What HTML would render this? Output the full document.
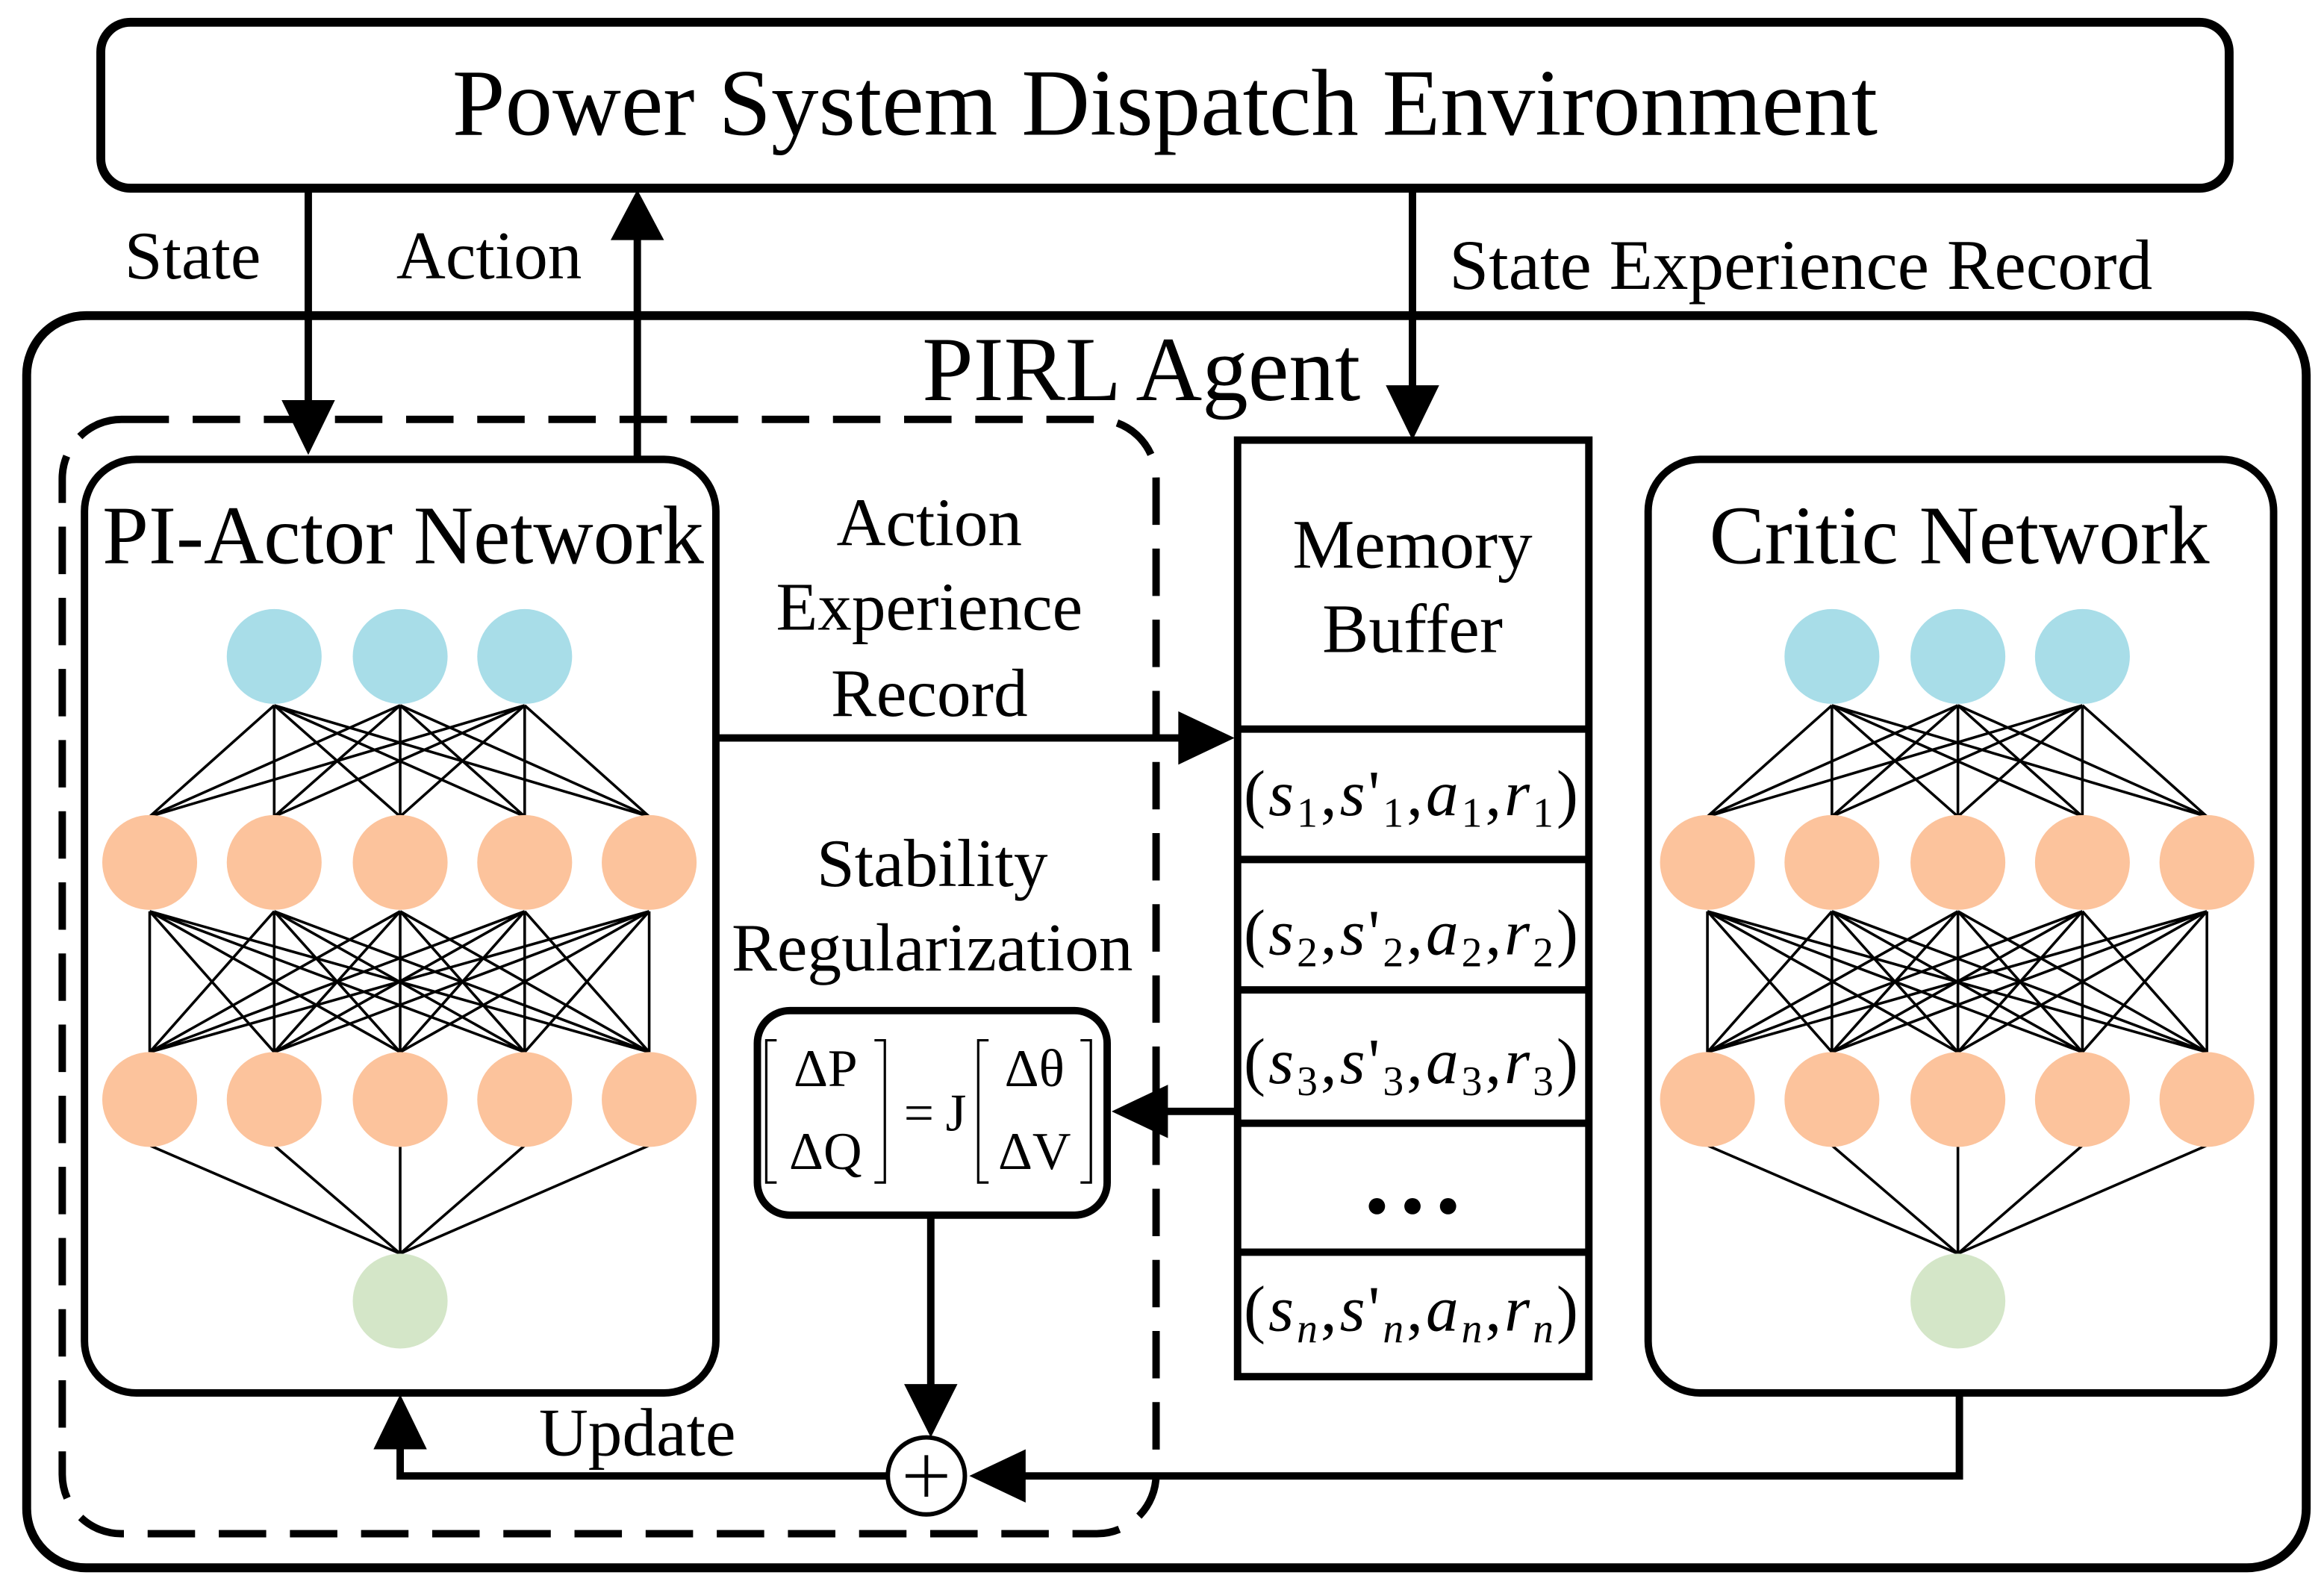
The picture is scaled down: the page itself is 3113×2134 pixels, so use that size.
<!DOCTYPE html>
<html><head><meta charset="utf-8"><style>
html,body{margin:0;padding:0;background:#fff;}
svg{display:block;}
text{font-family:"Liberation Serif",serif;fill:#000;}
</style></head><body>
<svg width="3113" height="2134" viewBox="0 0 1568 1075" preserveAspectRatio="none" xmlns="http://www.w3.org/2000/svg">
<defs>
<g id="net">
<path fill="none" stroke="#000" stroke-width="1.8" d="M185 476L101 551M185 476L185 551M185 476L270 551M185 476L354 551M185 476L438 551M270 476L101 551M270 476L185 551M270 476L270 551M270 476L354 551M270 476L438 551M354 476L101 551M354 476L185 551M354 476L270 551M354 476L354 551M354 476L438 551
M101 615L101 710M101 615L185 710M101 615L270 710M101 615L354 710M101 615L438 710
M185 615L101 710M185 615L185 710M185 615L270 710M185 615L354 710M185 615L438 710
M270 615L101 710M270 615L185 710M270 615L270 710M270 615L354 710M270 615L438 710
M354 615L101 710M354 615L185 710M354 615L270 710M354 615L354 710M354 615L438 710
M438 615L101 710M438 615L185 710M438 615L270 710M438 615L354 710M438 615L438 710
M101 773L270 846M185 773L270 846M270 773L270 846M354 773L270 846M438 773L270 846"/>
<g fill="#a8dde8"><circle cx="185" cy="443" r="32"/><circle cx="270" cy="443" r="32"/><circle cx="354" cy="443" r="32"/></g>
<g fill="#fcc39c"><circle cx="101" cy="582" r="32"/><circle cx="185" cy="582" r="32"/><circle cx="270" cy="582" r="32"/><circle cx="354" cy="582" r="32"/><circle cx="438" cy="582" r="32"/>
<circle cx="101" cy="742" r="32"/><circle cx="185" cy="742" r="32"/><circle cx="270" cy="742" r="32"/><circle cx="354" cy="742" r="32"/><circle cx="438" cy="742" r="32"/></g>
<circle cx="270" cy="878" r="32" fill="#d4e6c8"/>
</g>
</defs>

<rect x="68" y="15" width="1436" height="112" rx="20" fill="none" stroke="#000" stroke-width="6"/>
<text x="786" y="91" font-size="64" text-anchor="middle">Power System Dispatch Environment</text>

<rect x="18" y="213" width="1538" height="845" rx="40" fill="#fff" stroke="#000" stroke-width="6"/>
<text x="770" y="270" font-size="62" text-anchor="middle">PIRL Agent</text>
<rect x="42" y="283" width="738" height="752" rx="40" fill="none" stroke="#000" stroke-width="5" stroke-dasharray="32,16"/>

<g stroke="#000" stroke-width="5" fill="none">
<line x1="208" y1="127" x2="208" y2="275"/>
<line x1="430" y1="308" x2="430" y2="160"/>
<line x1="953" y1="127" x2="953" y2="262"/>
<line x1="483" y1="498" x2="800" y2="498"/>
<line x1="835" y1="750" x2="785" y2="750"/>
<line x1="628" y1="820" x2="628" y2="938"/>
<polyline points="1322,940 1322,996 690,996"/>
<polyline points="599,996 270,996 270,975"/>
</g>
<g fill="#000">
<polygon points="190,270 226,270 208,307"/>
<polygon points="412,162 448,162 430,128"/>
<polygon points="935,260 971,260 953,297"/>
<polygon points="795,480 795,516 833,498"/>
<polygon points="788,732 788,768 750,750"/>
<polygon points="610,934 646,934 628,970"/>
<polygon points="692,978 692,1014 654,996"/>
<polygon points="252,978 288,978 270,941"/>
</g>
<text x="130" y="188" font-size="46" text-anchor="middle">State</text>
<text x="330" y="188" font-size="46" text-anchor="middle">Action</text>
<text x="1215" y="195" font-size="48" text-anchor="middle">State Experience Record</text>

<rect x="57" y="310" width="426" height="630" rx="35" fill="#fff" stroke="#000" stroke-width="5"/>
<text x="272" y="380" font-size="56" text-anchor="middle">PI-Actor Network</text>
<use href="#net"/>

<rect x="1112" y="310" width="422" height="630" rx="35" fill="#fff" stroke="#000" stroke-width="5"/>
<text x="1322" y="380" font-size="56" text-anchor="middle">Critic Network</text>
<use href="#net" transform="translate(1051,0)"/>

<g font-size="46" text-anchor="middle">
<text x="627" y="368">Action</text>
<text x="627" y="425">Experience</text>
<text x="627" y="483">Record</text>
<text x="629" y="598">Stability</text>
<text x="629" y="655">Regularization</text>
<text x="430" y="982">Update</text>
</g>

<rect x="511" y="682" width="236" height="138" rx="22" fill="#fff" stroke="#000" stroke-width="5"/>
<g stroke="#000" stroke-width="1.6" fill="none">
<polyline points="524,702 517,702 517,798 524,798"/>
<polyline points="590,702 597,702 597,798 590,798"/>
<polyline points="667,702 660,702 660,798 667,798"/>
<polyline points="729,702 736,702 736,798 729,798"/>
</g>
<g font-size="36" text-anchor="middle">
<text x="557" y="733">ΔP</text>
<text x="557" y="789">ΔQ</text>
<text x="698" y="733">Δθ</text>
<text x="698" y="789">ΔV</text>
<text x="620" y="763">=</text>
<text x="645" y="763">J</text>
</g>

<circle cx="625" cy="996" r="26" fill="#fff" stroke="#000" stroke-width="3"/>
<path d="M625 982V1010M611 996H639" stroke="#000" stroke-width="2.5"/>

<rect x="835" y="297" width="237" height="632" fill="#fff" stroke="#000" stroke-width="5"/>
<g stroke="#000" stroke-width="5">
<line x1="835" y1="492" x2="1072" y2="492"/>
<line x1="835" y1="580" x2="1072" y2="580"/>
<line x1="835" y1="668" x2="1072" y2="668"/>
<line x1="835" y1="758" x2="1072" y2="758"/>
<line x1="835" y1="845" x2="1072" y2="845"/>
</g>
<text x="953" y="383" font-size="47" text-anchor="middle">Memory</text>
<text x="953" y="440" font-size="47" text-anchor="middle">Buffer</text>
<g font-size="44" text-anchor="middle" letter-spacing="2">
<text x="953" y="550">(<tspan font-style="italic">s</tspan><tspan font-size="28" dy="8">1</tspan><tspan dy="-8">,</tspan><tspan font-style="italic">s</tspan>'<tspan font-size="28" dy="8">1</tspan><tspan dy="-8">,</tspan><tspan font-style="italic">a</tspan><tspan font-size="28" dy="8">1</tspan><tspan dy="-8">,</tspan><tspan font-style="italic">r</tspan><tspan font-size="28" dy="8">1</tspan><tspan dy="-8">)</tspan></text>
<text x="953" y="644">(<tspan font-style="italic">s</tspan><tspan font-size="28" dy="8">2</tspan><tspan dy="-8">,</tspan><tspan font-style="italic">s</tspan>'<tspan font-size="28" dy="8">2</tspan><tspan dy="-8">,</tspan><tspan font-style="italic">a</tspan><tspan font-size="28" dy="8">2</tspan><tspan dy="-8">,</tspan><tspan font-style="italic">r</tspan><tspan font-size="28" dy="8">2</tspan><tspan dy="-8">)</tspan></text>
<text x="953" y="731">(<tspan font-style="italic">s</tspan><tspan font-size="28" dy="8">3</tspan><tspan dy="-8">,</tspan><tspan font-style="italic">s</tspan>'<tspan font-size="28" dy="8">3</tspan><tspan dy="-8">,</tspan><tspan font-style="italic">a</tspan><tspan font-size="28" dy="8">3</tspan><tspan dy="-8">,</tspan><tspan font-style="italic">r</tspan><tspan font-size="28" dy="8">3</tspan><tspan dy="-8">)</tspan></text>
<text x="953" y="898">(<tspan font-style="italic">s</tspan><tspan font-size="28" dy="8" font-style="italic">n</tspan><tspan dy="-8">,</tspan><tspan font-style="italic">s</tspan>'<tspan font-size="28" dy="8" font-style="italic">n</tspan><tspan dy="-8">,</tspan><tspan font-style="italic">a</tspan><tspan font-size="28" dy="8" font-style="italic">n</tspan><tspan dy="-8">,</tspan><tspan font-style="italic">r</tspan><tspan font-size="28" dy="8" font-style="italic">n</tspan><tspan dy="-8">)</tspan></text>
</g>
<g fill="#000"><circle cx="929" cy="814" r="5.5"/><circle cx="953" cy="814" r="5.5"/><circle cx="977" cy="814" r="5.5"/></g>
</svg>
</body></html>
